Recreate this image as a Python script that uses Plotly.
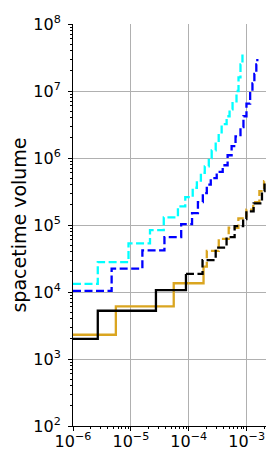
import plotly.graph_objects as go

# ---- data ----
cyan_x = [1e-6, 2.68e-6, 9.1e-6, 2.14e-5, 3.7e-5, 6.5e-5, 8.7e-5, 1.17e-4, 1.38e-4, 1.62e-4,
          1.89e-4, 2.22e-4, 2.49e-4, 2.92e-4, 3.29e-4, 3.70e-4, 4.51e-4, 5.07e-4, 5.71e-4,
          6.68e-4, 7.24e-4, 7.83e-4, 8.47e-4]
cyan_y = [1.32e4, 2.8e4, 5.3e4, 8.4e4, 1.3e5, 1.9e5, 2.6e5, 3.6e5, 4.6e5, 6.0e5,
          7.5e5, 1.0e6, 1.3e6, 1.7e6, 2.3e6, 3.2e6, 4.2e6, 5.3e6, 6.6e6,
          1.0e7, 1.6e7, 2.5e7, 3.7e7]

blue_x = [1e-6, 4.65e-6, 1.58e-5, 3.8e-5, 7.4e-5, 1.14e-4, 1.44e-4, 1.75e-4, 2.05e-4, 2.40e-4,
          3.04e-4, 3.86e-4, 4.69e-4, 5.50e-4, 6.43e-4, 7.83e-4, 8.81e-4, 9.93e-4, 1.15e-3,
          1.26e-3, 1.36e-3, 1.47e-3, 1.53e-3]
blue_y = [1.04e4, 2.24e4, 4.17e4, 6.6e4, 1.03e5, 1.5e5, 2.2e5, 3.0e5, 4.0e5, 5.0e5,
          6.2e5, 7.8e5, 1.1e6, 1.5e6, 2.1e6, 2.9e6, 4.2e6, 6.5e6, 1.0e7,
          1.3e7, 1.8e7, 2.5e7, 3.0e7]

black_x = [1e-6, 2.68e-6, 2.71e-5, 8.95e-5, 1.73e-4, 2.92e-4, 4.5e-4, 6.2e-4, 8.7e-4, 9.9e-4,
           1.32e-3, 1.84e-3, 2.04e-3, 2.4e-3, 2.74e-3]
black_y = [2.0e3, 5.25e3, 1.07e4, 1.86e4, 3.0e4, 4.6e4, 6.6e4, 9.6e4, 1.23e5, 1.6e5,
           2.1e5, 3.2e5, 4.2e5, 5.3e5, 7.1e5]
black_solid_n = 4   # first points drawn solid

orange_x = [1e-6, 5.5e-6, 5.5e-5, 1.8e-4, 2.05e-4, 3.3e-4, 4.9e-4, 7.2e-4, 9.9e-4, 1.3e-3,
            1.66e-3, 2.0e-3, 2.36e-3, 2.75e-3]
orange_y = [2.3e3, 6.1e3, 1.35e4, 2.4e4, 4.1e4, 6.2e4, 9.1e4, 1.26e5, 1.7e5, 2.2e5,
            3.2e5, 4.5e5, 5.6e5, 6.6e5]
orange_solid_n = 4

x_tick_vals = [1e-6, 1e-5, 1e-4, 1e-3]
x_tick_text = ["10<sup>\u22126</sup>", "10<sup>\u22125</sup>", "10<sup>\u22124</sup>", "10<sup>\u22123</sup>"]
y_tick_vals = [1e2, 1e3, 1e4, 1e5, 1e6, 1e7, 1e8]
y_tick_text = ["10<sup>2</sup>", "10<sup>3</sup>", "10<sup>4</sup>", "10<sup>5</sup>",
               "10<sup>6</sup>", "10<sup>7</sup>", "10<sup>8</sup>"]

# minor tick positions (2..9 times each decade)
x_minor = [m * 10.0 ** e for e in range(-6, -2) for m in range(2, 10)]
y_minor = [m * 10.0 ** e for e in range(2, 8) for m in range(2, 10)]

DASH = "8px,3.5px"
LW = 2.3

fig = go.Figure()

def step(x, y, color, dash):
    fig.add_trace(go.Scatter(x=x, y=y, mode="lines", line=dict(shape="hv", color=color, width=LW, dash=dash),
                             showlegend=False, hoverinfo="skip", cliponaxis=False))

step(cyan_x, cyan_y, "#00FFFF", DASH)
step(blue_x, blue_y, "#0000FF", DASH)
step(orange_x[:orange_solid_n], orange_y[:orange_solid_n], "#DAA520", "solid")
step(orange_x[orange_solid_n - 1:], orange_y[orange_solid_n - 1:], "#DAA520", DASH)
step(black_x[:black_solid_n], black_y[:black_solid_n], "#000000", "solid")
step(black_x[black_solid_n - 1:], black_y[black_solid_n - 1:], "#000000", DASH)

axis_common = dict(
    showgrid=True, gridcolor="#b0b0b0", gridwidth=0.8,
    showline=True, linecolor="black", linewidth=1,
    ticks="outside", ticklen=4, tickcolor="black", tickwidth=1,
    zeroline=False, mirror=False, automargin=False,
    tickfont=dict(family="DejaVu Sans", size=16, color="black"),
)

fig.update_xaxes(type="log", range=[-6, -2.51], tickvals=x_tick_vals, ticktext=x_tick_text,
                 ticklabelstandoff=-3,
                 minor=dict(tickvals=x_minor, ticks="outside", ticklen=2, tickcolor="black", showgrid=False),
                 **axis_common)
fig.update_yaxes(type="log", range=[2, 8], tickvals=y_tick_vals, ticktext=y_tick_text,
                 ticklabelstandoff=4,
                 minor=dict(tickvals=y_minor, ticks="outside", ticklen=2, tickcolor="black", showgrid=False),
                 title=dict(text="spacetime volume", font=dict(family="DejaVu Sans", size=19, color="black"), standoff=6),
                 **axis_common)

fig.update_layout(
    width=274, height=451,
    margin=dict(l=65, r=7, t=16, b=33),
    plot_bgcolor="white", paper_bgcolor="white",
    font=dict(family="DejaVu Sans"),
)

fig.write_html("out.html")
